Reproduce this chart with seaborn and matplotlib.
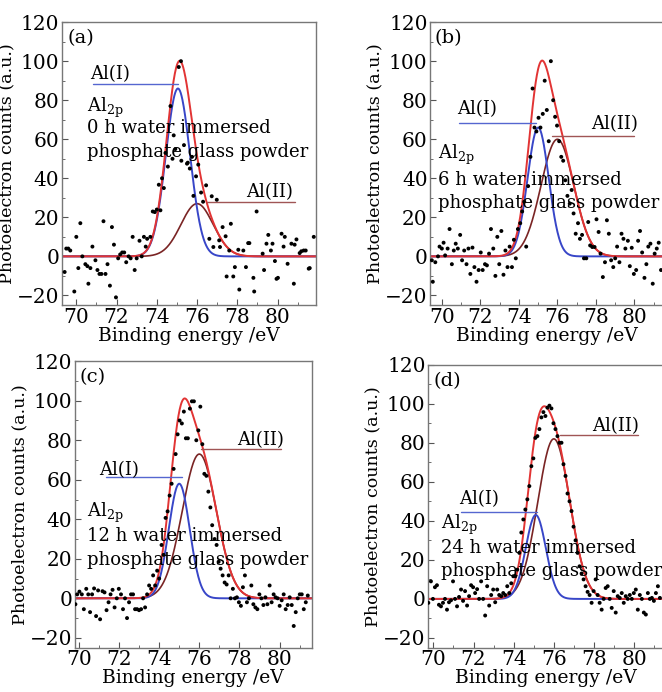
import matplotlib
matplotlib.use("Agg")
import matplotlib.pyplot as plt
import seaborn as sns
import numpy as np
import pandas as pd
from matplotlib.ticker import MultipleLocator

sns.set_theme(style="ticks")
plt.rcParams["font.family"] = ["DejaVu Serif"]
plt.rcParams["mathtext.fontset"] = "dejavuserif"
plt.rcParams["text.color"] = "black"
plt.rcParams["axes.labelcolor"] = "black"
plt.rcParams["xtick.labelcolor"] = "black"
plt.rcParams["ytick.labelcolor"] = "black"

# measured points (binding energy eV, counts)
a_x = [69.42, 69.5, 69.6, 69.7, 69.9, 70.0, 70.1, 70.2, 70.3, 70.45, 70.55, 70.6, 70.7, 70.8, 70.95,
       71.05, 71.15, 71.25, 71.35, 71.45, 71.55, 71.67, 71.77, 71.87, 71.97, 72.08, 72.18, 72.28, 72.38,
       72.48, 72.6, 72.7, 72.8, 72.9, 73.0, 73.14, 73.25, 73.36, 73.45, 73.52, 73.68, 73.8, 73.9, 74.0,
       74.1, 74.18, 74.26, 74.35, 74.43, 74.55, 74.68, 74.78, 74.84, 74.92, 75.09, 75.2, 75.22, 75.35,
       75.5, 75.54, 75.64, 75.75, 75.82, 75.95, 76.06, 76.2, 76.3, 76.45, 76.61, 76.73, 76.81, 76.98,
       77.1, 77.14, 77.27, 77.42, 77.47, 77.6, 77.68, 77.8, 77.88, 78.05, 78.1, 78.3, 78.43, 78.54, 78.6,
       78.8, 78.84, 78.96, 79.26, 79.33, 79.45, 79.54, 79.67, 79.75, 79.87, 79.95, 80.02, 80.2, 80.3,
       80.36, 80.5, 80.69, 80.81, 80.85, 80.94, 81.1, 81.18, 81.3, 81.4, 81.55, 81.6, 81.8]
a_y = [-8, 4, 4, 3, -18, 10, -6, 17, 0, -4, -5, -14, -6, 5, -2,
       -7, -9, -9, 18, -9, -4, -15, 15, 6, -21, -1, 1, 2, 2,
       -3, 0, -1, 10, -7, -1, 8, 0, 10, 5, 9, 10, 23, 22.7, 24,
       36.7, 23.6, 40, 35, 53, 46, 77, 50, 62, 55, 97, 100, 49, 57,
       47.5, 48, 45, 51, 31, 41, 47, 32.7, 28, 36.4, 9, 30.8, 4.8, 29,
       8.2, 4.8, 15, 10.3, -10.3, 3, 16.7, -10.3, -5.5, 3.4, -17, 3, -5.5, 6.8, 6.8,
       -11, -18, 23, 1.4, -7, 6.5, 11, 3, 6.5, -2.4, -11.5, -11, 11.6, 5,
       10, -3.8, 6.5, -14, 6, 8.7, 1.7, 2.6, 3, 3, -6.3, -6, 10]

b_x = [69.48, 69.53, 69.66, 69.8, 69.88, 70.0, 70.09, 70.17, 70.3, 70.4, 70.52, 70.62, 70.72, 70.83,
       70.95, 71.05, 71.16, 71.28, 71.38, 71.48, 71.59, 71.69, 71.8, 71.91, 72.02, 72.12, 72.24, 72.34,
       72.45, 72.55, 72.67, 72.78, 72.88, 72.98, 73.09, 73.2, 73.3, 73.41, 73.52, 73.64, 73.74, 73.84,
       73.95, 74.07, 74.17, 74.28, 74.38, 74.48, 74.6, 74.71, 74.81, 74.91, 75.02, 75.12, 75.24, 75.34,
       75.45, 75.55, 75.66, 75.78, 75.88, 75.98, 76.09, 76.2, 76.3, 76.41, 76.52, 76.64, 76.74, 76.84,
       76.95, 77.07, 77.17, 77.28, 77.38, 77.5, 77.6, 77.7, 77.81, 77.93, 78.03, 78.14, 78.24, 78.36,
       78.47, 78.57, 78.67, 78.79, 78.9, 79.0, 79.1, 79.22, 79.33, 79.43, 79.53, 79.66, 79.76, 79.86,
       79.97, 80.09, 80.19, 80.29, 80.4, 80.52, 80.62, 80.72, 80.83, 80.95, 81.05, 81.16, 81.26, 81.38]
b_y = [-2, -13, -3, 0, 5, 4, 7, 0.5, 4, 14, -4, 3, 6.5, 4,
       11, -2, 3, -4, 4, -9, 4.5, -5.5, -13, -7, 2, -7, -4, -4.6,
       1.4, 14, 4, -10, 10, -4, 13, -9.4, 3, -5.5, 5, -5.5, 8.5, -1,
       14, 17, 23, 28, 5, 36, 51, 86, 66, 64, 71, 66, 73, 90,
       75, 59, 100, 80, 71.5, 67, 59, 51, 49, 39, 31, 27, 34, 22,
       11.6, 17, 9, 11, -1, -1, 17.6, 5.6, 4.8, 4.8, 19, 12.5, 1.4, -10.6,
       -3, 18.5, 11.6, -2, -5.5, -1, 5, -3, 11.6, 9, 4, 8, -5, 4.4,
       -9, -7, 8, 13, 2, -11, -4, 5, 6.5, -14, 1.4, 4, 7, -7]

c_x = [69.83, 69.92, 70.03, 70.15, 70.25, 70.37, 70.47, 70.56, 70.66, 70.76, 70.86, 70.96, 71.06,
       71.18, 71.28, 71.38, 71.48, 71.58, 71.68, 71.78, 71.89, 71.99, 72.1, 72.2, 72.3, 72.4, 72.5,
       72.6, 72.7, 72.8, 72.9, 73.0, 73.1, 73.2, 73.3, 73.4, 73.5, 73.6, 73.7, 73.8, 73.9, 74.0,
       74.12, 74.22, 74.32, 74.42, 74.52, 74.62, 74.72, 74.82, 74.92, 75.02, 75.13, 75.23, 75.33,
       75.43, 75.53, 75.63, 75.73, 75.85, 75.95, 76.05, 76.15, 76.25, 76.35, 76.45, 76.55, 76.64,
       76.76, 76.86, 76.96, 77.06, 77.16, 77.26, 77.36, 77.46, 77.56, 77.67, 77.77, 77.87, 77.97,
       78.07, 78.17, 78.27, 78.37, 78.47, 78.59, 78.69, 78.79, 78.89, 78.99, 79.09, 79.19, 79.29,
       79.39, 79.5, 79.6, 79.7, 79.8, 79.9, 80.0, 80.1, 80.2, 80.3, 80.4, 80.5, 80.6, 80.7, 80.8,
       80.9, 81.0, 81.1, 81.2, 81.3, 81.4]
c_y = [-3, 2, 3.4, 2, -5.5, 4.8, 2, -7, 2, 5, -9, 4, -10.6,
       3.6, 3, -6, -2, 2, 4.3, -4.6, 0, 4.8, 2, -5.5, 0, -10, -2,
       2, 2, -5.5, -5.5, -6, -5.5, 0, -4.6, 2, 6.5, 4.8, 11.6, 6.5, 14, 10,
       27, 22, 40.7, 44, 52, 58, 65.5, 73, 83, 90, 88.5, 94.5, 81,
       81, 96, 99.7, 99.7, 80, 85, 97, 78, 63, 62, 54, 46, 37,
       30, 27, 18.5, 15, 11.6, 8, 7, 11.6, 0, 4.8, 0, 0.5, -2,
       -3.8, 5.6, 11.6, -2, 0, 6.5, -3, -4.6, -5.5, 2, 0, -3.4, 0.5,
       -3, 6.5, -2, 2, 0.5, 0, -3.8, -1, 2, -5.5, -3.4, 0.5, -3.4, -14, -7,
       0, 2, 2, -5.5, -2, 1.4]

d_x = [69.75, 69.88, 69.98, 70.08, 70.18, 70.28, 70.38, 70.48, 70.58, 70.68, 70.78, 70.88, 70.98,
       71.08, 71.18, 71.28, 71.38, 71.48, 71.58, 71.68, 71.78, 71.88, 71.98, 72.08, 72.18, 72.28,
       72.38, 72.48, 72.58, 72.68, 72.78, 72.88, 72.98, 73.08, 73.18, 73.28, 73.38, 73.48, 73.58,
       73.68, 73.78, 73.88, 73.98, 74.08, 74.18, 74.28, 74.38, 74.48, 74.58, 74.68, 74.78, 74.88,
       74.98, 75.08, 75.18, 75.28, 75.38, 75.48, 75.58, 75.68, 75.78, 75.88, 75.98, 76.08, 76.18,
       76.28, 76.38, 76.48, 76.58, 76.68, 76.78, 76.88, 76.98, 77.08, 77.18, 77.28, 77.38, 77.48,
       77.58, 77.68, 77.78, 77.88, 77.98, 78.08, 78.18, 78.28, 78.38, 78.48, 78.58, 78.68, 78.78,
       78.88, 78.98, 79.08, 79.18, 79.28, 79.38, 79.48, 79.58, 79.68, 79.78, 79.88, 79.98, 80.08,
       80.18, 80.28, 80.38, 80.48, 80.58, 80.68, 80.78, 80.88, 80.98, 81.08, 81.18, 81.28]
d_y = [-2, 9, 0, 6, 7, -3, -3.8, -2, 0, -5.5, -1.7, -0.7, 9,
       0, -3.8, 1, 4.8, -1, 4, -3.4, 1.4, 7, 6, 3, 5, 0,
       9, 0, -8.5, 6.5, -3.4, 2, 4.8, -1.7, 4.8, 2, 1.4, 3, 2,
       6.5, 3, 8, 11.6, 11.6, 15, 23.6, 34, 40.7, 45.8, 51, 57.8, 68,
       72, 82.5, 83.4, 87, 93, 95.7, 93.7, 98, 99, 97.6, 90, 87, 83.4,
       80, 80, 69, 63, 54, 50, 45, 37, 30, 23.6, 16.7, 13, 10,
       6.5, 3.6, 2, -2, 4, 10, 2, -2, -5.5, 0, 5.6, 6.5, 0,
       -4.6, 4, -7, 1.4, 0.5, 3, -2, 1.4, 0, 2, 0, 3, 4.8,
       -5.5, 2, 0, -7, -8, 3, 0, 0.5, -1, 3, 6.5, 0.5]

# fitted components: (centre eV, height, sigma eV)
a_fit = {"Al(I)": (75.05, 86, 0.6), "Al(II)": (76.0, 27, 0.8)}
b_fit = {"Al(I)": (75.0, 66, 0.55), "Al(II)": (76.0, 60, 0.85)}
c_fit = {"Al(I)": (75.0, 58, 0.52), "Al(II)": (76.0, 73, 0.85)}
d_fit = {"Al(I)": (75.1, 43, 0.5), "Al(II)": (76.0, 82, 0.8)}

hours = ["0", "6", "12", "24"]
panel_tags = ["(a)", "(b)", "(c)", "(d)"]

# annotation anchors in data coords
label_I = [(70.7, 91, 70.85, 75.05, 88.2), (70.8, 73, 70.9, 74.9, 68.4),
           (71.0, 62.5, 71.35, 75.15, 61.4), (71.3, 48.7, 71.4, 75.15, 44.6)]
label_II = [(78.45, 30.3, 76.5, 80.85, 27.7), (77.75, 65, 75.7, 80.0, 61.5),
            (77.9, 77.6, 76.1, 80.05, 75.4), (77.9, 86, 76.3, 80.2, 84)]
desc_pos = [(70.55, 74, 63, 51), (69.8, 50, 36.4, 24.6),
            (70.4, 41, 29, 17), (70.4, 36, 23.7, 11.8)]
xlims = [(69.3, 81.9), (69.4, 81.5), (69.8, 81.6), (69.75, 81.45)]
boxes = [[0.094, 0.559, 0.383, 0.409], [0.650, 0.559, 0.352, 0.409],
         [0.113, 0.064, 0.358, 0.414], [0.647, 0.064, 0.355, 0.409]]

RED, BLUE, BROWN = "#e23434", "#3846c8", "#7a2424"

fig = plt.figure(figsize=(6.62, 6.92), dpi=100)
data = [(a_x, a_y, a_fit), (b_x, b_y, b_fit), (c_x, c_y, c_fit), (d_x, d_y, d_fit)]

for i, (xs, ys, fit) in enumerate(data):
    ax = fig.add_axes(boxes[i])
    e = np.linspace(xlims[i][0], xlims[i][1], 600)
    c1, h1, s1 = fit["Al(I)"]
    c2, h2, s2 = fit["Al(II)"]
    g1 = h1 * np.exp(-(e - c1) ** 2 / (2 * s1 ** 2))
    g2 = h2 * np.exp(-(e - c2) ** 2 / (2 * s2 ** 2))
    curves = pd.DataFrame({"E": e, "I": g1, "II": g2, "sum": g1 + g2})
    sns.lineplot(data=curves, x="E", y="II", ax=ax, color=BROWN, lw=1.2)
    sns.lineplot(data=curves, x="E", y="I", ax=ax, color=BLUE, lw=1.4)
    sns.lineplot(data=curves, x="E", y="sum", ax=ax, color=RED, lw=1.4)
    pts = pd.DataFrame({"E": xs, "counts": ys})
    sns.scatterplot(data=pts, x="E", y="counts", ax=ax, color="black", s=8,
                    edgecolor="none", zorder=5)

    ax.set_xlim(*xlims[i])
    ax.set_ylim(-25, 120)
    ax.xaxis.set_major_locator(MultipleLocator(2))
    ax.xaxis.set_minor_locator(MultipleLocator(1))
    ax.yaxis.set_major_locator(MultipleLocator(20))
    ax.yaxis.set_minor_locator(MultipleLocator(10))
    ax.tick_params(which="major", direction="in", length=4, width=0.8, labelsize=14.5,
                   color="#555555", pad=2)
    ax.tick_params(which="minor", direction="in", length=2, width=0.6, color="#555555")
    for sp in ax.spines.values():
        sp.set_color("#777777")
        sp.set_linewidth(1.0)
    ax.set_xlabel("Binding energy /eV", fontsize=13.5, labelpad=0)
    ax.set_ylabel("Photoelectron counts (a.u.)", fontsize=12.6, labelpad=1)

    ax.text(0.02, 0.975, panel_tags[i], transform=ax.transAxes, fontsize=14,
            ha="left", va="top")

    tx, ty, lx0, lx1, ly = label_I[i]
    ax.text(tx, ty, "Al(I)", fontsize=13, va="baseline")
    ax.plot([lx0, lx1], [ly, ly], color="#5566d0", lw=1.0)
    tx, ty, lx0, lx1, ly = label_II[i]
    ax.text(tx, ty, "Al(II)", fontsize=13, va="baseline")
    ax.plot([lx0, lx1], [ly, ly], color="#a05555", lw=1.0)

    dx, y1, y2, y3 = desc_pos[i]
    ax.text(dx, y1, r"Al$_{\mathregular{2p}}$", fontsize=13, va="baseline")
    ax.text(dx, y2, hours[i] + " h water immersed", fontsize=13, va="baseline")
    ax.text(dx, y3, "phosphate glass powder", fontsize=13, va="baseline")

fig.savefig("out.png", dpi=100)
plt.close(fig)
